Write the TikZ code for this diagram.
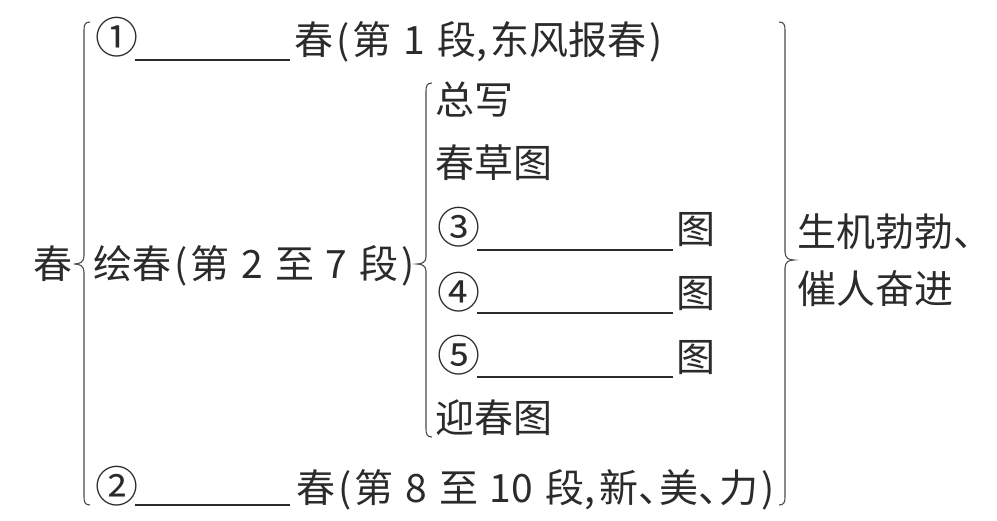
\documentclass[tikz,border=0pt]{standalone}
\usepackage{fontspec}
\setmainfont{Noto Sans CJK SC}
\definecolor{ink}{HTML}{2B2B2B}
\newcommand\Lp{\hspace{3pt}(\hspace{3pt}}
\newcommand\Rp{\hspace{3pt})}
\newcommand\Sp{\hspace{12pt}}
\newcommand\Cm{,\hspace{4pt}}
\newcommand\Dn{、\hspace{-18pt}}
\begin{document}
\begin{tikzpicture}[x=1pt,y=-1pt,
  txt/.style={anchor=west,inner sep=0pt,font=\fontsize{39}{40}\selectfont,text height=34pt,text depth=6pt,text=ink},
  circ/.style={anchor=west,inner sep=0pt,font=\fontsize{43}{43}\selectfont,text=ink},
  brc/.style={draw=ink!85,line width=1.1pt},
  blank/.style={draw=ink,line width=1.3pt}]
\useasboundingbox[fill=white] (0,0) rectangle (997,520);
% root
\node[txt] (root) at (33,264) {春};
% level 1
\node[circ] (c1) at (95,37) {①};
\node[txt] (t1) at (294,40) {春\Lp 第\Sp 1\Sp 段\Cm 东风报春\Rp};
\node[txt] (mid) at (93,264) {绘春\Lp 第\Sp 2\Sp 至\Sp 7\Sp 段\Rp};
\node[circ] (c2) at (95,486) {②};
\node[txt] (t2) at (296,488) {春\Lp 第\Sp 8\Sp 至\Sp 10\Sp 段\Cm 新\Dn 美\Dn 力\Rp};
\draw[blank] (135,60) -- (290,60);
\draw[blank] (135,505) -- (290,505);
% level 2
\node[txt] (s1) at (435,100) {总写};
\node[txt] (s2) at (435,163) {春草图};
\node[circ] (s3) at (437,227) {③};
\node[txt] (s3t) at (676,229) {图};
\node[circ] (s4) at (437,292) {④};
\node[txt] (s4t) at (676,293) {图};
\node[circ] (s5) at (437,355) {⑤};
\node[txt] (s5t) at (676,357) {图};
\node[txt] (s6) at (435,418) {迎春图};
\draw[blank] (477,250) -- (673,250);
\draw[blank] (477,313) -- (673,313);
\draw[blank] (477,377) -- (673,377);
% conclusion
\node[txt] (e1) at (797,232) {生机勃勃、};
\node[txt] (e2) at (797,289) {催人奋进};
% braces
\draw[brc] (90,22) .. controls (85,22) and (84,25) .. (84,30) -- (84,256)
  .. controls (84,262) and (80,264) .. (74,264)
  .. controls (80,264) and (84,266) .. (84,272) -- (84,497)
  .. controls (84,502) and (85,505) .. (90,505);
\draw[brc] (432,83) .. controls (427,83) and (426,86) .. (426,91) -- (426,257)
  .. controls (426,262) and (422,264) .. (417,264)
  .. controls (422,264) and (426,266) .. (426,271) -- (426,429)
  .. controls (426,434) and (427,437) .. (432,437);
\draw[brc] (779,22) .. controls (784,22) and (785,25) .. (785,30) -- (785,252)
  .. controls (785,258) and (789,260) .. (794,260)
  .. controls (789,260) and (785,262) .. (785,268) -- (785,497)
  .. controls (785,502) and (784,505) .. (779,505);
\end{tikzpicture}
\end{document}
